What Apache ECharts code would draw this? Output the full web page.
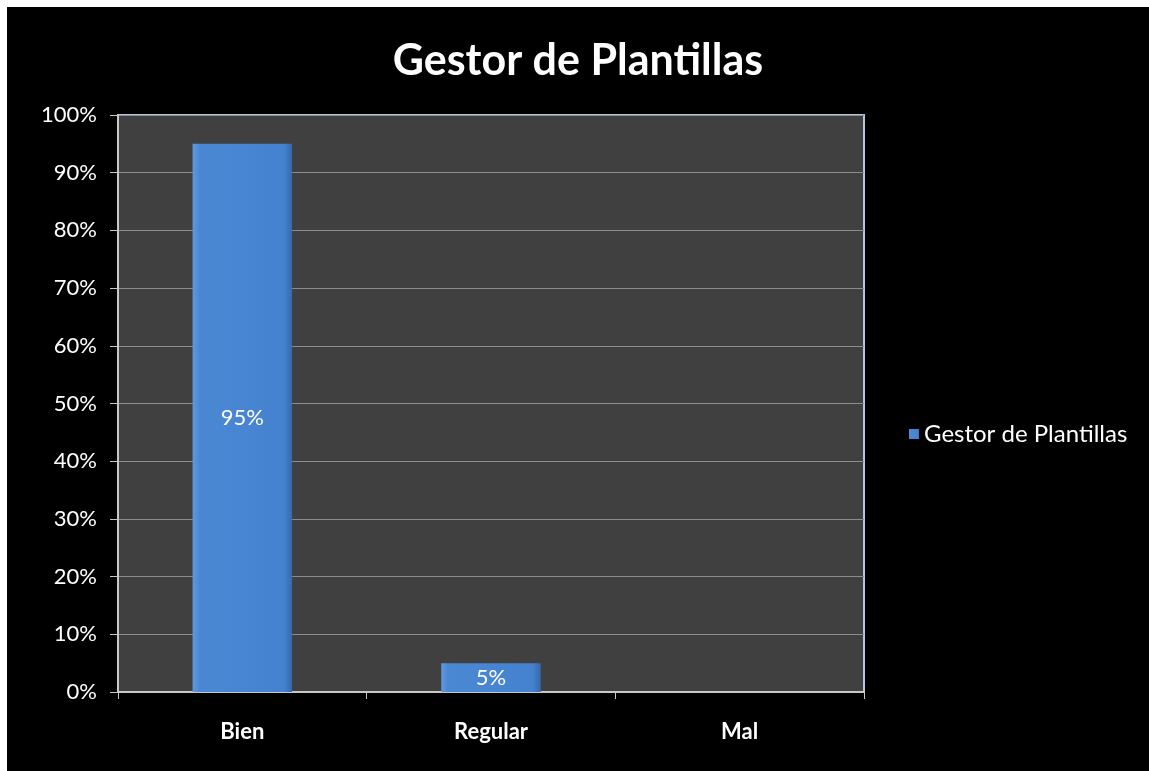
<!DOCTYPE html>
<html>
<head>
<meta charset="utf-8">
<script src="https://cdn.jsdelivr.net/npm/echarts@6/dist/echarts.min.js"></script>
<style>
  html, body { margin: 0; padding: 0; background: #ffffff; }
  #chart { position: absolute; left: 7px; top: 7px; width: 1142px; height: 764px; background: #000000; }
</style>
</head>
<body>
<div id="chart"></div>
<script>
// Survey results for the template manager
const chartTitle = 'Gestor de Plantillas';
const seriesName = 'Gestor de Plantillas';
const categories = ['Bien', 'Regular', 'Mal'];
const values = [95, 5, 0];

const FONT = 'Lato, "Open Sans", sans-serif';

const chart = echarts.init(document.getElementById('chart'));

// bevelled look: lighter left edge, darker right edge
const barFill = new echarts.graphic.LinearGradient(0, 0, 1, 0, [
  { offset: 0, color: '#5f9ae0' },
  { offset: 0.07, color: '#4b88d4' },
  { offset: 0.92, color: '#4482d0' },
  { offset: 1, color: '#3768aa' }
]);

chart.setOption({
  backgroundColor: '#000000',
  animation: false,
  title: {
    text: chartTitle,
    left: 'center',
    top: 28,
    textStyle: { color: '#ffffff', fontSize: 43, fontWeight: 'bold', fontFamily: FONT }
  },
  legend: {
    data: [seriesName],
    orient: 'vertical',
    left: 897,
    top: 410,
    itemWidth: 10,
    itemHeight: 10,
    itemGap: 6,
    icon: 'rect',
    textStyle: { color: '#ffffff', fontSize: 24, fontFamily: FONT }
  },
  grid: {
    left: 111,
    top: 108,
    right: 285,
    bottom: 79,
    show: true,
    backgroundColor: '#404040',
    borderColor: '#b4c4e4',
    borderWidth: 2,
    containLabel: false
  },
  xAxis: {
    type: 'category',
    data: categories,
    axisLine: { lineStyle: { color: '#c8c8c8', width: 2 } },
    axisTick: { show: true, length: 7, lineStyle: { color: '#c8c8c8' } },
    axisLabel: { color: '#ffffff', fontSize: 22, fontWeight: 'bold', fontFamily: FONT, margin: 29 }
  },
  yAxis: {
    type: 'value',
    min: 0,
    max: 100,
    interval: 10,
    axisLine: { show: true, lineStyle: { color: '#c8c8c8', width: 2 } },
    axisTick: { show: true, length: 8, lineStyle: { color: '#c8c8c8' } },
    splitLine: { lineStyle: { color: '#8c8c8c', width: 1 } },
    axisLabel: {
      color: '#ffffff', fontSize: 22, fontFamily: FONT, margin: 21,
      formatter: v => v + '%'
    }
  },
  series: [{
    name: seriesName,
    type: 'bar',
    data: values,
    barWidth: '40%',
    itemStyle: { color: barFill },
    label: {
      show: true,
      position: 'inside',
      color: '#ffffff',
      fontSize: 22,
      fontFamily: FONT,
      formatter: p => p.value > 0 ? p.value + '%' : ''
    }
  }]
});
</script>
</body>
</html>
